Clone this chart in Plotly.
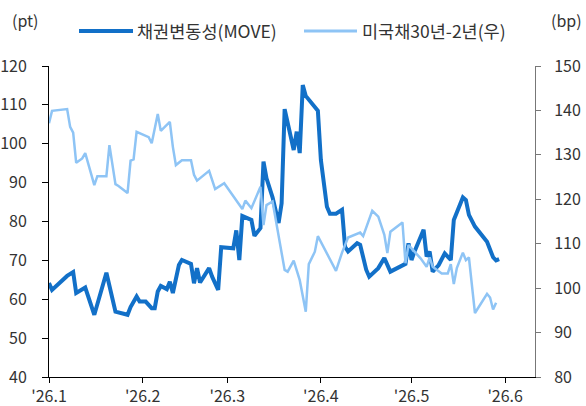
import plotly.graph_objects as go

# ---- data ----
move_dates = ["2026-01-01","2026-01-02","2026-01-07","2026-01-09","2026-01-10","2026-01-13","2026-01-16",
              "2026-01-20","2026-01-23","2026-01-27","2026-01-28","2026-01-30","2026-01-31","2026-02-02",
              "2026-02-04","2026-02-05","2026-02-06","2026-02-07","2026-02-09","2026-02-10","2026-02-11",
              "2026-02-13","2026-02-14","2026-02-17","2026-02-18","2026-02-19","2026-02-20","2026-02-23",
              "2026-02-24","2026-02-26","2026-02-27","2026-03-03","2026-03-04","2026-03-05","2026-03-06",
              "2026-03-09","2026-03-10","2026-03-12","2026-03-13","2026-03-14","2026-03-16","2026-03-18",
              "2026-03-19","2026-03-20","2026-03-23","2026-03-24","2026-03-25","2026-03-26","2026-03-27",
              "2026-03-31","2026-04-01","2026-04-03","2026-04-04","2026-04-06","2026-04-08","2026-04-09",
              "2026-04-10","2026-04-13","2026-04-14","2026-04-16","2026-04-17","2026-04-20","2026-04-22",
              "2026-04-24","2026-04-29","2026-04-30","2026-05-01","2026-05-02","2026-05-05","2026-05-06",
              "2026-05-07","2026-05-08","2026-05-10","2026-05-12","2026-05-14","2026-05-15","2026-05-18",
              "2026-05-19","2026-05-20","2026-05-22","2026-05-26","2026-05-28","2026-05-29","2026-05-30"]
move_vals = [64.2,62.4,66.0,67.0,61.6,63.0,56.0,
             66.8,56.8,56.0,58.0,60.7,59.4,59.4,
             57.7,57.7,62.0,63.4,62.6,64.5,61.6,
             68.8,70.1,69.1,64.1,68.0,64.3,68.0,
             65.8,62.4,73.4,73.1,77.7,70.1,81.4,
             80.4,76.3,78.3,95.4,91.1,86.2,79.6,
             84.7,108.9,98.4,103.1,97.6,115.1,112.3,
             108.5,95.8,83.8,82.0,82.0,83.0,73.5,
             72.3,74.4,74.0,67.6,65.8,68.0,70.6,
             67.1,69.1,74.4,70.1,72.3,77.9,71.0,
             72.3,67.1,68.8,71.8,70.1,80.4,86.2,
             85.5,81.7,78.7,74.8,70.8,70.0,70.3]

spread_dates = ["2026-01-01","2026-01-02","2026-01-07","2026-01-08","2026-01-09","2026-01-10","2026-01-12",
                "2026-01-13","2026-01-16","2026-01-17","2026-01-20","2026-01-21","2026-01-23","2026-01-24",
                "2026-01-27","2026-01-28","2026-01-29","2026-01-30","2026-02-03","2026-02-04","2026-02-06",
                "2026-02-07","2026-02-10","2026-02-11","2026-02-12","2026-02-14","2026-02-17","2026-02-18",
                "2026-02-19","2026-02-23","2026-02-25","2026-02-28","2026-03-06","2026-03-07","2026-03-09",
                "2026-03-12","2026-03-13","2026-03-14","2026-03-16","2026-03-20","2026-03-21","2026-03-23",
                "2026-03-25","2026-03-27","2026-03-28","2026-03-30","2026-03-31","2026-04-04","2026-04-06",
                "2026-04-08","2026-04-10","2026-04-14","2026-04-15","2026-04-18","2026-04-20","2026-04-22",
                "2026-04-23","2026-04-24","2026-04-28","2026-04-29","2026-04-30","2026-05-02","2026-05-04",
                "2026-05-06","2026-05-07","2026-05-08","2026-05-11","2026-05-13","2026-05-14","2026-05-15",
                "2026-05-16","2026-05-18","2026-05-19","2026-05-20","2026-05-22","2026-05-26","2026-05-27",
                "2026-05-28","2026-05-29"]
spread_vals = [137.1,139.9,140.3,136.3,135.0,128.2,129.2,
               130.4,123.2,125.2,125.2,132.2,123.4,123.0,
               121.4,128.7,129.0,135.2,134.0,132.6,139.2,
               135.4,137.4,131.8,127.7,128.8,128.8,125.5,
               124.2,126.4,122.3,123.6,117.8,119.7,118.0,
               122.8,114.2,118.7,119.5,104.1,103.7,106.2,
               101.8,94.7,105.4,108.2,111.7,106.3,103.9,
               108.0,111.4,112.5,111.7,117.4,116.1,112.0,
               107.9,112.7,114.8,105.6,109.7,108.2,106.7,
               104.8,106.9,104.8,103.3,103.3,105.4,100.9,
               104.5,108.0,106.3,106.9,94.4,98.7,97.9,
               95.2,96.7]

x_tickvals = ["2026-01-01","2026-02-01","2026-03-01","2026-04-01","2026-05-01","2026-06-01"]
x_ticktext = ["'26.1","'26.2","'26.3","'26.4","'26.5","'26.6"]

name_move = "채권변동성(MOVE)"
name_spread = "미국채30년-2년(우)"

DARK = "rgb(18,112,200)"
LIGHT = "rgb(142,196,245)"
FONT = "Noto Sans CJK KR"
TXT = "#333333"

fig = go.Figure()
fig.add_trace(go.Scatter(x=move_dates, y=move_vals, mode="lines", name=name_move,
                         line=dict(color=DARK, width=4, shape="linear"), showlegend=False))
fig.add_trace(go.Scatter(x=spread_dates, y=spread_vals, mode="lines", name=name_spread, yaxis="y2",
                         line=dict(color=LIGHT, width=2.5), showlegend=False))

W, H = 586, 406
PL, PR, PT, PB = 49, 535, 66, 377          # plot area in page pixels
L, R, T, B = PL, W - PR, PT, H - PB
pw, ph = PR - PL, PB - PT

def px(xp):
    return (xp - PL) / pw

def py(yp):
    return (PB - yp) / ph

shapes = [
    dict(type="line", xref="paper", yref="paper", x0=px(79), x1=px(133), y0=py(31), y1=py(31),
         line=dict(color=DARK, width=4)),
    dict(type="line", xref="paper", yref="paper", x0=px(304), x1=px(357), y0=py(31), y1=py(31),
         line=dict(color=LIGHT, width=3)),
]
annotations = [
    dict(text=name_move, xref="paper", yref="paper", x=px(135), y=py(30), xanchor="left", yanchor="middle",
         showarrow=False, font=dict(family=FONT, size=17.5, color=TXT)),
    dict(text=name_spread, xref="paper", yref="paper", x=px(360), y=py(30), xanchor="left", yanchor="middle",
         showarrow=False, font=dict(family=FONT, size=17.5, color=TXT)),
    dict(text="(pt)", xref="paper", yref="paper", x=px(10), y=py(20), xanchor="left", yanchor="middle",
         showarrow=False, font=dict(family=FONT, size=16, color=TXT)),
    dict(text="(bp)", xref="paper", yref="paper", x=px(584), y=py(20), xanchor="right", yanchor="middle",
         showarrow=False, font=dict(family=FONT, size=16, color=TXT)),
]

fig.update_layout(
    width=W, height=H,
    margin=dict(l=L, r=R, t=T, b=B, pad=0, autoexpand=False),
    paper_bgcolor="white", plot_bgcolor="white",
    font=dict(family=FONT, size=16, color=TXT),
    showlegend=False,
    hovermode=False,
    shapes=shapes, annotations=annotations,
    xaxis=dict(type="date", range=["2026-01-01", "2026-06-10 21:00"], automargin=False,
               tickvals=x_tickvals, ticktext=x_ticktext,
               showgrid=False, zeroline=False, showline=True, linecolor="black", linewidth=1,
               ticks="outside", ticklen=5, tickcolor="black", tickfont=dict(size=16, color=TXT)),
    yaxis=dict(range=[40, 120], dtick=10, tick0=40, showgrid=False, zeroline=False, automargin=False,
               showline=True, linecolor="black", linewidth=1,
               ticks="outside", ticklen=6, tickcolor="black", ticklabelstandoff=12,
               tickfont=dict(size=16, color=TXT)),
    yaxis2=dict(range=[80, 150], dtick=10, tick0=80, overlaying="y", side="right", automargin=False,
                showgrid=False, zeroline=False, showline=True, linecolor="#777777", linewidth=1,
                ticks="outside", ticklen=5, tickcolor="#777777", ticklabelstandoff=10,
                tickfont=dict(size=16, color=TXT)),
)

fig.write_html("out.html", config={"displayModeBar": False},
               post_script="document.body.style.margin='0';document.body.style.overflow='hidden';")
